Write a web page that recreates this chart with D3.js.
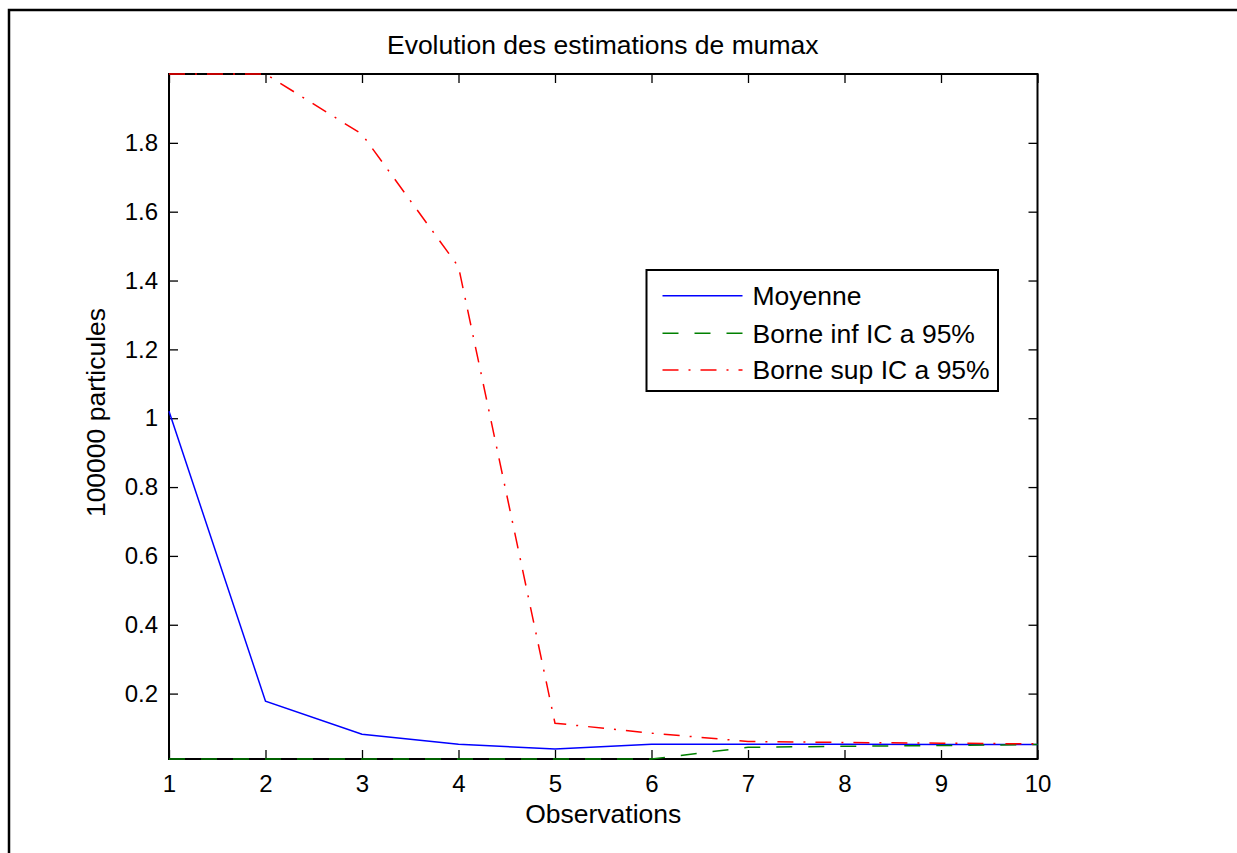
<!DOCTYPE html>
<html>
<head>
<meta charset="utf-8">
<script src="https://cdn.jsdelivr.net/npm/d3@7"></script>
<style>
  html, body { margin: 0; padding: 0; background: #fff; }
  svg { display: block; }
  text { font-family: "Liberation Sans", Arial, Helvetica, sans-serif; fill: #000; }
</style>
</head>
<body>
<svg id="chart" width="1237" height="853"></svg>
<script>
// Observation index
const observations = [1, 2, 3, 4, 5, 6, 7, 8, 9, 10];
// Mean estimate of mumax
const moyenne   = [1.02, 0.178, 0.082, 0.053, 0.039, 0.053, 0.053, 0.053, 0.052, 0.052];
// Lower bound of the 95% confidence interval
const borneInf  = [0.01, 0.01, 0.01, 0.01, 0.01, 0.01, 0.044, 0.047, 0.049, 0.052];
// Upper bound of the 95% confidence interval
const borneSup  = [2.0, 2.0, 1.825, 1.44, 0.114, 0.085, 0.061, 0.058, 0.056, 0.054];

const xTicks = [1, 2, 3, 4, 5, 6, 7, 8, 9, 10];
const yTicks = [0.2, 0.4, 0.6, 0.8, 1, 1.2, 1.4, 1.6, 1.8];
const yTickLabels = ["0.2", "0.4", "0.6", "0.8", "1", "1.2", "1.4", "1.6", "1.8"];

const seriesList = [
  { name: "Moyenne",            values: moyenne,  color: "#0000ff", dash: null },
  { name: "Borne inf IC a 95%", values: borneInf, color: "#008000", dash: "16,16" },
  { name: "Borne sup IC a 95%", values: borneSup, color: "#ff0000", dash: "16,10,2,10" }
];

const svg = d3.select("#chart");
const TICK_FONT = 24;
const LABEL_FONT = 26.5;

// figure border
svg.append("rect")
  .attr("x", 9).attr("y", 10)
  .attr("width", 1400).attr("height", 1000)
  .attr("fill", "none").attr("stroke", "#000").attr("stroke-width", 2.5);

const plot = { left: 169, right: 1037.5, top: 74, bottom: 759 };

const x = d3.scaleLinear().domain([1, 10]).range([plot.left, plot.right]);
const y = d3.scaleLinear().domain([0.01, 2.0]).range([plot.bottom, plot.top]);

const g = svg.append("g");

// axes box
g.append("rect")
  .attr("x", plot.left).attr("y", plot.top)
  .attr("width", plot.right - plot.left).attr("height", plot.bottom - plot.top)
  .attr("fill", "none").attr("stroke", "#000").attr("stroke-width", 2);

const tickLen = 9;
// inward ticks on all four sides
const xAxisBottom = d3.axisBottom(x).tickValues(xTicks).tickSize(-tickLen).tickPadding(16).tickFormat(d3.format("d"));
const xAxisTop = d3.axisTop(x).tickValues(xTicks).tickSize(-tickLen).tickFormat("");
const yAxisLeft = d3.axisLeft(y).tickValues(yTicks).tickSize(-tickLen).tickPadding(11)
  .tickFormat((d, i) => yTickLabels[i]);
const yAxisRight = d3.axisRight(y).tickValues(yTicks).tickSize(-tickLen).tickFormat("");

function styleAxis(sel) {
  sel.select(".domain").remove();
  sel.selectAll(".tick line").attr("stroke", "#000").attr("stroke-width", 1.3);
  sel.selectAll(".tick text")
    .attr("font-family", "Liberation Sans, Arial, sans-serif")
    .attr("font-size", TICK_FONT).attr("fill", "#000");
}

g.append("g").attr("transform", `translate(0,${plot.bottom})`).call(xAxisBottom).call(styleAxis);
g.append("g").attr("transform", `translate(0,${plot.top})`).call(xAxisTop).call(styleAxis);
g.append("g").attr("transform", `translate(${plot.left},0)`).call(yAxisLeft).call(styleAxis);
g.append("g").attr("transform", `translate(${plot.right},0)`).call(yAxisRight).call(styleAxis);

// data lines
const line = d3.line()
  .x((d, i) => x(observations[i]))
  .y(d => y(d));

seriesList.forEach(s => {
  g.append("path")
    .datum(s.values)
    .attr("d", line)
    .attr("fill", "none")
    .attr("stroke", s.color)
    .attr("stroke-width", 1.5)
    .attr("stroke-dasharray", s.dash);
});

// title and axis labels
svg.append("text")
  .attr("x", (plot.left + plot.right) / 2 - 0.5).attr("y", 54)
  .attr("text-anchor", "middle").attr("font-size", LABEL_FONT)
  .text("Evolution des estimations de mumax");

svg.append("text")
  .attr("x", (plot.left + plot.right) / 2).attr("y", 823)
  .attr("text-anchor", "middle").attr("font-size", LABEL_FONT)
  .text("Observations");

svg.append("text")
  .attr("transform", `translate(105,${(plot.top + plot.bottom) / 2 - 4}) rotate(-90)`)
  .attr("text-anchor", "middle").attr("font-size", LABEL_FONT)
  .text("100000 particules");

// legend
const leg = svg.append("g").attr("transform", "translate(646.5,270)");
leg.append("rect")
  .attr("width", 351.5).attr("height", 121)
  .attr("fill", "#fff").attr("stroke", "#000").attr("stroke-width", 2);

const rowY = [25.7, 63.3, 100];
seriesList.forEach((s, i) => {
  leg.append("line")
    .attr("x1", 16).attr("x2", 96)
    .attr("y1", rowY[i]).attr("y2", rowY[i])
    .attr("stroke", s.color).attr("stroke-width", 1.5)
    .attr("stroke-dasharray", s.dash);
  leg.append("text")
    .attr("x", 106).attr("y", rowY[i])
    .attr("dy", "0.35em").attr("font-size", LABEL_FONT)
    .text(s.name);
});
</script>
</body>
</html>
